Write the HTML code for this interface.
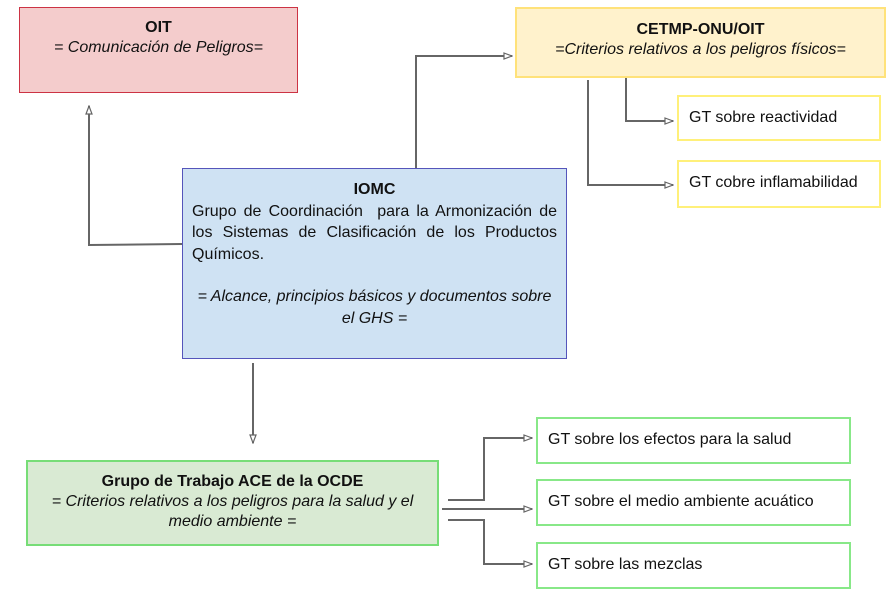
<!DOCTYPE html>
<html><head><meta charset="utf-8"><style>
body{margin:0;width:895px;height:596px;background:#fff;position:relative;font-family:"Liberation Sans",sans-serif;color:#111;overflow:hidden}
.b{position:absolute;box-sizing:border-box;font-size:16px;line-height:20px;white-space:nowrap}
.c{text-align:center}
.g{padding:11px 0 0 10px;border:2px solid #88e888;background:#fff}
.y{padding:11px 0 0 10px;border:2px solid #fff07a;background:#fff}
i{font-style:italic}
.j{text-align:justify;text-align-last:justify}
</style></head><body>
<svg width="895" height="596" style="position:absolute;left:0;top:0">
<defs><marker id="a" markerWidth="10" markerHeight="8" refX="9" refY="4" orient="auto" markerUnits="userSpaceOnUse"><path d="M1,1 L9,4 L1,7 Z" fill="#fff" stroke="#666" stroke-width="1.2"/></marker></defs>
<g fill="none" stroke="#666" stroke-width="2">
<polyline points="182,244 89,245 89,106" marker-end="url(#a)"/>
<polyline points="416,168 416,56 512,56" marker-end="url(#a)"/>
<polyline points="626,77 626,121 673,121" marker-end="url(#a)"/>
<polyline points="588,80 588,185 673,185" marker-end="url(#a)"/>
<polyline points="253,363 253,443" marker-end="url(#a)"/>
<polyline points="448,500 484,500 484,438 532,438" marker-end="url(#a)"/>
<polyline points="442,509 532,509" marker-end="url(#a)"/>
<polyline points="448,520 484,520 484,564 532,564" marker-end="url(#a)"/>
</g></svg>
<div class="b c" style="left:19px;top:7px;width:279px;height:86px;background:#f4cccc;border:1px solid #cc3344;padding-top:10px"><b>OIT</b><br><i>= Comunicación de Peligros=</i></div>
<div class="b c" style="left:515px;top:7px;width:371px;height:71px;background:#fff2cc;border:2px solid #ffe27a;padding-top:11px"><b>CETMP-ONU/OIT</b><br><i>=Criterios relativos a los peligros físicos=</i></div>
<div class="b y" style="left:677px;top:95px;width:204px;height:46px">GT sobre reactividad</div>
<div class="b y" style="left:677px;top:160px;width:204px;height:48px">GT cobre inflamabilidad</div>
<div class="b" style="left:182px;top:168px;width:385px;height:191px;background:#cfe2f3;border:1px solid #5555bb;padding:10px 9px 0 9px;line-height:21.5px">
<div class="c"><b>IOMC</b></div>
<div class="j">Grupo de Coordinación&nbsp; para la Armonización de</div>
<div class="j">los Sistemas de Clasificación de los Productos</div>
<div>Químicos.</div>
<div style="height:21px"></div>
<div class="c"><i>= Alcance, principios básicos y documentos sobre</i></div>
<div class="c"><i>el GHS =</i></div>
</div>
<div class="b c" style="left:26px;top:460px;width:413px;height:86px;background:#d9ead3;border:2px solid #77dd77;padding-top:10px"><b>Grupo de Trabajo ACE de la OCDE</b><br><i>= Criterios relativos a los peligros para la salud y el</i><br><i>medio ambiente =</i></div>
<div class="b g" style="left:536px;top:417px;width:315px;height:47px">GT sobre los efectos para la salud</div>
<div class="b g" style="left:536px;top:479px;width:315px;height:47px">GT sobre el medio ambiente acuático</div>
<div class="b g" style="left:536px;top:542px;width:315px;height:47px">GT sobre las mezclas</div>
</body></html>
